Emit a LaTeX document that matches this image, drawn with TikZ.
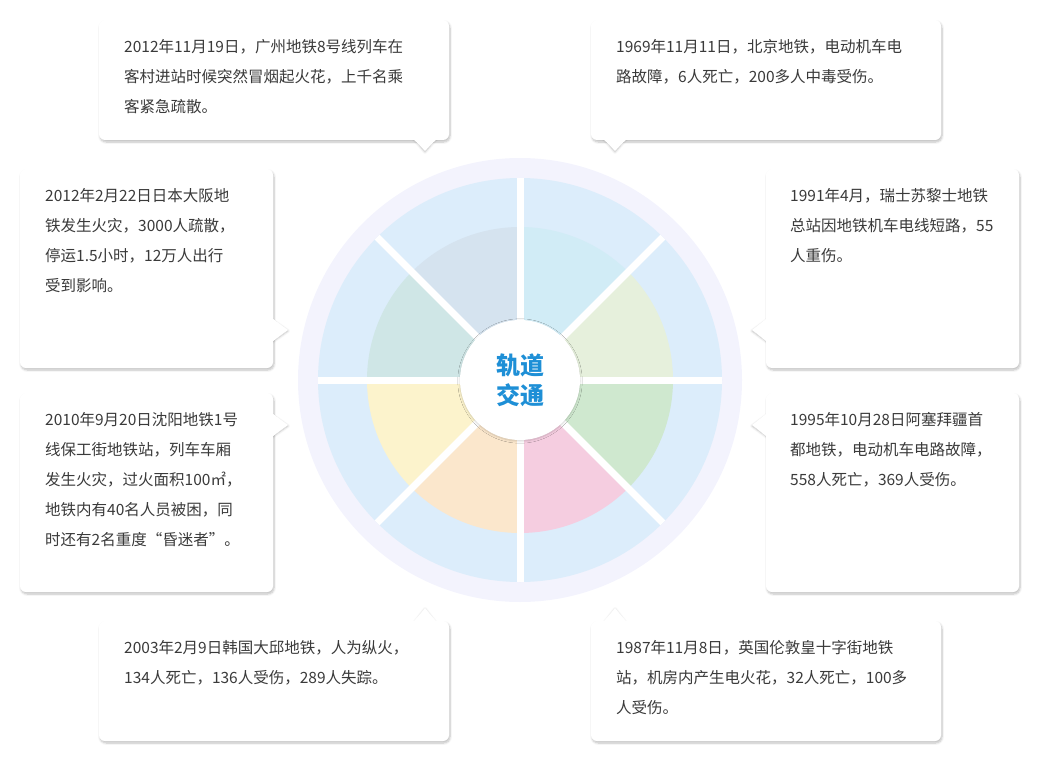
\documentclass[tikz,border=0pt]{standalone}
\usepackage{fontspec}
\setmainfont{Noto Sans CJK SC}
\usetikzlibrary{shadows.blur}
\definecolor{txt}{HTML}{3A3A3A}
\definecolor{blu}{HTML}{1E8FD6}
\definecolor{ring}{HTML}{DCEDFB}
\definecolor{outer}{HTML}{F3F3FD}
\begin{document}
\begin{tikzpicture}[x=1pt,y=-1pt,
  card/.style={fill=white,rounded corners=6pt,blur shadow={shadow blur steps=6,shadow xshift=1pt,shadow yshift=-2pt,shadow opacity=25}},
  ptr/.style={fill=white,blur shadow={shadow blur steps=5,shadow xshift=0pt,shadow yshift=-1pt,shadow opacity=25}},
  txtnode/.style={anchor=north west,align=left,text=txt,font=\fontsize{15.5}{30}\selectfont,inner sep=0pt}]
\useasboundingbox (0,0) rectangle (1040,762);
\def\cx{520}\def\cy{380}
% rings
\fill[outer] (\cx,\cy) circle (222);
\fill[ring] (\cx,\cy) circle (202);
\foreach \a/\c in {90/D5E3EF,135/CFE6E6,180/FCF3CC,225/FBE7CC,270/F5CDE0,315/CFE8CF,0/E6F0DC,45/D1ECF6}{
  \definecolor{sc}{HTML}{\c}
  \fill[sc] (\cx,\cy) -- ++(-\a:153) arc[start angle=-\a,delta angle=-45,radius=153] -- cycle;}
\foreach \a in {0,45,...,315}{\draw[white,line width=7pt] (\cx,\cy) -- ++(\a:202);}
\fill[white,blur shadow={shadow blur steps=6,shadow xshift=0pt,shadow yshift=-1pt,shadow opacity=18}] (\cx,\cy) circle (60);
\node[text=blu,font=\fontsize{24}{30}\bfseries\selectfont,align=center] (c) at (\cx,\cy) {轨道\\交通};
% pointers
\fill[ptr] (411,135) -- (425,151) -- (439,135) -- cycle;
\fill[ptr] (601,135) -- (615,151) -- (629,135) -- cycle;
\fill[ptr] (268,316) -- (288,330) -- (268,344) -- cycle;
\fill[ptr] (771,316) -- (752,330) -- (771,344) -- cycle;
\fill[ptr] (268,411) -- (288,425) -- (268,439) -- cycle;
\fill[ptr] (771,411) -- (752,425) -- (771,439) -- cycle;
\fill[ptr] (411,626) -- (425,608) -- (439,626) -- cycle;
\fill[ptr] (601,626) -- (615,608) -- (629,626) -- cycle;
% cards
\fill[card] (99,20) rectangle (449,140);
\fill[card] (591,20) rectangle (941,140);
\fill[card] (20,169) rectangle (273,368);
\fill[card] (766,169) rectangle (1019,368);
\fill[card] (20,393) rectangle (273,592);
\fill[card] (766,393) rectangle (1019,592);
\fill[card] (99,621) rectangle (449,741);
\fill[card] (591,621) rectangle (941,741);
\fill[white] (413,139) -- (425,150) -- (437,139) -- cycle;
\fill[white] (603,139) -- (615,150) -- (627,139) -- cycle;
\fill[white] (272,318) -- (287,330) -- (272,342) -- cycle;
\fill[white] (767,318) -- (753,330) -- (767,342) -- cycle;
\fill[white] (272,413) -- (287,425) -- (272,437) -- cycle;
\fill[white] (767,413) -- (753,425) -- (767,437) -- cycle;
\fill[white] (413,622) -- (425,609) -- (437,622) -- cycle;
\fill[white] (603,622) -- (615,609) -- (627,622) -- cycle;
% texts
\node[txtnode] (t1) at (124,39) {2012年11月19日，广州地铁8号线列车在\\客村进站时候突然冒烟起火花，上千名乘\\客紧急疏散。};
\node[txtnode] (t2) at (616,39) {1969年11月11日，北京地铁，电动机车电\\路故障，6人死亡，200多人中毒受伤。};
\node[txtnode] (t3) at (45,188) {2012年2月22日日本大阪地\\铁发生火灾，3000人疏散，\\停运1.5小时，12万人出行\\受到影响。};
\node[txtnode] (t4) at (790,188) {1991年4月，瑞士苏黎士地铁\\总站因地铁机车电线短路，55\\人重伤。};
\node[txtnode] (t5) at (45,412) {2010年9月20日沈阳地铁1号\\线保工街地铁站，列车车厢\\发生火灾，过火面积100㎡，\\地铁内有40名人员被困，同\\时还有2名重度“昏迷者”。};
\node[txtnode] (t6) at (790,412) {1995年10月28日阿塞拜疆首\\都地铁，电动机车电路故障，\\558人死亡，369人受伤。};
\node[txtnode] (t7) at (124,640) {2003年2月9日韩国大邱地铁，人为纵火，\\134人死亡，136人受伤，289人失踪。};
\node[txtnode] (t8) at (616,640) {1987年11月8日，英国伦敦皇十字街地铁\\站，机房内产生电火花，32人死亡，100多\\人受伤。};
\end{tikzpicture}
\end{document}
